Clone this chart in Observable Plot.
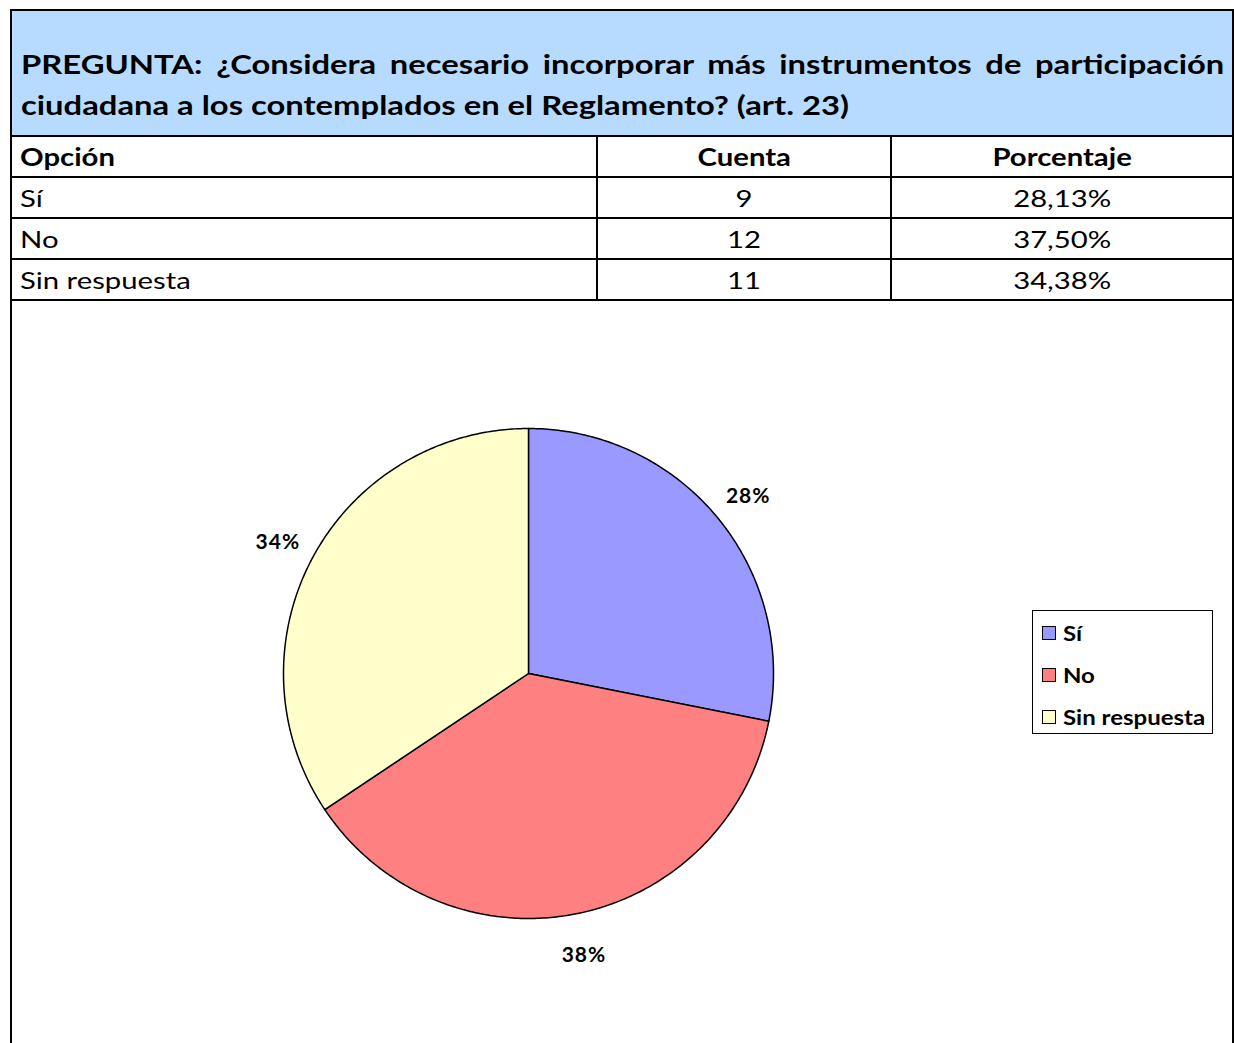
<!DOCTYPE html>
<html>
<head>
<meta charset="utf-8">
<script src="https://cdn.jsdelivr.net/npm/d3@7"></script>
<script src="https://cdn.jsdelivr.net/npm/@observablehq/plot@0.6"></script>
<style>
  html, body { margin: 0; padding: 0; background: #fff; }
  body { width: 1234px; height: 1043px; overflow: hidden; position: relative; font-family: Lato, "Open Sans", sans-serif; color: #000; }
  #box { position: absolute; left: 10px; top: 9px; width: 1220px; border-left: 2px solid #000; border-right: 2px solid #000; border-top: 2px solid #000; height: 1040px; }
  #title { background: #b7dbff; height: 126px; box-sizing: border-box; padding: 33px 9px 0 9px; font-weight: 700; font-size: 26px; line-height: 41px; border-bottom: 2px solid #000; overflow: hidden; }
  #title .ln { width: 955px; transform: scaleX(1.26); transform-origin: 0 50%; white-space: nowrap; }
  #title .l1 { text-align: justify; text-align-last: justify; white-space: normal; }
  table { border-collapse: collapse; width: 100%; font-size: 24px; }
  td { height: 39px; padding: 0 0 0 8px; border-bottom: 2px solid #000; line-height: 39px; }
  td + td { border-left: 2px solid #000; text-align: center; padding: 0; }
  td span { display: inline-block; transform: scaleX(1.22); transform-origin: 0 50%; }
  td + td span { transform-origin: 50% 50%; }
  #legend { position: absolute; left: 1032px; top: 610px; width: 181px; height: 124px; border: 1px solid #000; box-sizing: border-box; font-weight: 700; font-size: 20px; }
  .item { position: absolute; left: 9px; display: flex; align-items: center; }
  .sw { width: 12px; height: 12px; border: 1.5px solid #000; margin-right: 7px; }
  .item .tx { display: inline-block; transform: scaleX(1.2); transform-origin: 0 50%; }
</style>
</head>
<body>
<div id="box">
  <div id="title"><div class="ln l1">PREGUNTA: ¿Considera necesario incorporar más instrumentos de participación</div><div class="ln">ciudadana a los contemplados en el Reglamento? (art. 23)</div></div>
  <table id="tbl"></table>
  <div id="chart"></div>
</div>
<div id="legend"></div>
<script>
const categories = ["Sí", "No", "Sin respuesta"];
const counts = [9, 12, 11];
const percentLabels = ["28,13%", "37,50%", "34,38%"];
const colors = ["#9999ff", "#ff8080", "#ffffcc"];
const headers = ["Opción", "Cuenta", "Porcentaje"];

// table
const tbl = document.getElementById("tbl");
const widths = [580, 294, 342];
let html = "<tr>" + headers.map((h, i) => `<td style="width:${widths[i]}px;font-weight:700"><span>${h}</span></td>`).join("") + "</tr>";
categories.forEach((c, i) => {
  html += `<tr><td><span>${c}</span></td><td><span>${counts[i]}</span></td><td><span>${percentLabels[i]}</span></td></tr>`;
});
tbl.innerHTML = html;

// pie geometry from data
const total = d3.sum(counts);
const pie = d3.pie().sort(null).value(d => d.count);
const arcs = pie(categories.map((c, i) => ({cat: c, count: counts[i]})));
const pts = [];
arcs.forEach(a => {
  const n = Math.max(8, Math.ceil((a.endAngle - a.startAngle) * 90));
  pts.push({cat: a.data.cat, x: 0, y: 0});
  for (let k = 0; k <= n; k++) {
    const t = a.startAngle + (a.endAngle - a.startAngle) * k / n;
    pts.push({cat: a.data.cat, x: Math.sin(t), y: Math.cos(t)});
  }
  pts.push({cat: a.data.cat, x: 0, y: 0});
});
const labelR = 1.16;
const labels = arcs.map(a => {
  const m = (a.startAngle + a.endAngle) / 2;
  return {x: labelR * Math.sin(m), y: labelR * Math.cos(m), text: Math.round(a.data.count / total * 100) + "%"};
});

const W = 1220, H = 740, cx = 516, cy = 372, R = 245;
const chart = Plot.plot({
  width: W, height: H, margin: 0,
  axis: null,
  x: {domain: [-1, 1], range: [cx - R, cx + R]},
  y: {domain: [-1, 1], range: [cy + R, cy - R]},
  color: {domain: categories, range: colors},
  style: {fontFamily: "Lato, 'Open Sans', sans-serif", background: "transparent", overflow: "visible", letterSpacing: "1px"},
  marks: [
    Plot.line(pts, {x: "x", y: "y", z: "cat", fill: "cat", stroke: "#000", strokeWidth: 1.5, strokeLinejoin: "round"}),
    Plot.text(labels, {x: "x", y: "y", text: "text", fontSize: 21, fontWeight: 700, fill: "#000", dy: 3})
  ]
});
document.getElementById("chart").appendChild(chart);

// legend
const lg = document.getElementById("legend");
categories.forEach((c, i) => {
  const d = document.createElement("div");
  d.className = "item";
  d.style.top = (10 + i * 42) + "px";
  d.innerHTML = `<span class="sw" style="background:${colors[i]}"></span><span class="tx">${c}</span>`;
  lg.appendChild(d);
});
</script>
</body>
</html>
